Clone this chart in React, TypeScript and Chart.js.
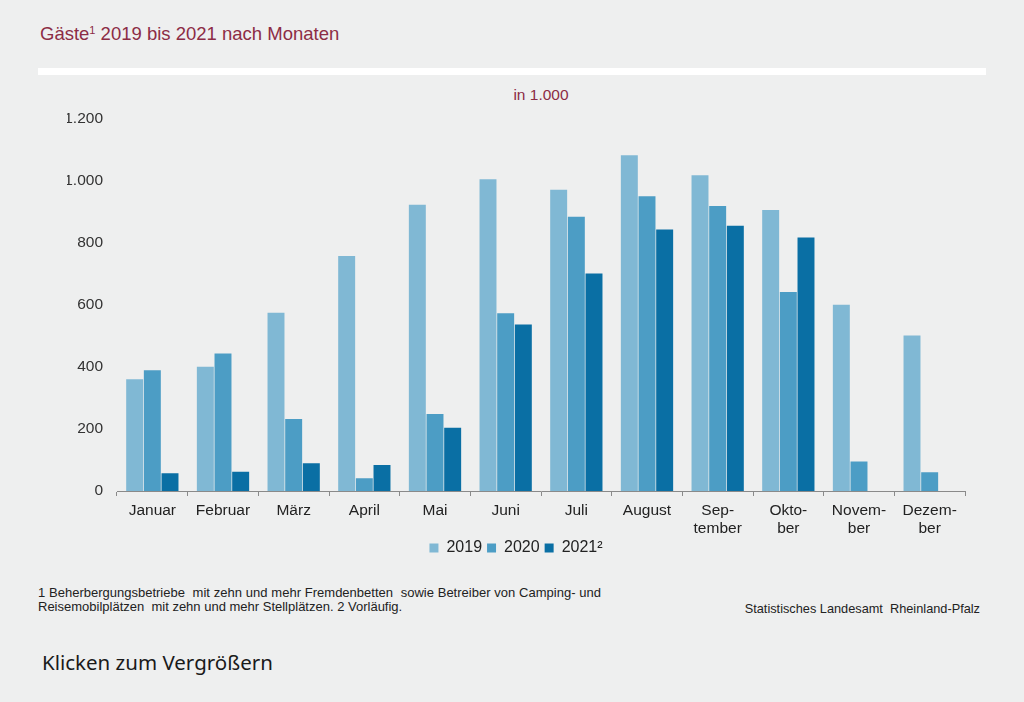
import React, { useEffect, useRef } from "react";
import { Chart, registerables } from "chart.js";

Chart.register(...registerables);

const months: (string | string[])[] = [
  "Januar", "Februar", "März", "April", "Mai", "Juni", "Juli", "August",
  ["Sep-", "tember"], ["Okto-", "ber"], ["Novem-", "ber"], ["Dezem-", "ber"],
];
const seriesLabels = ["2019", "2020", "2021²"];
const values2019 = [360, 400, 574, 757, 922, 1004, 970, 1081, 1017, 905, 600, 501];
const values2020 = [389, 443, 232, 41, 248, 572, 883, 949, 918, 641, 95, 60];
const values2021: (number | null)[] = [57, 62, 89, 84, 204, 536, 700, 842, 854, 816, null, null];
const colors = ["#80b8d4", "#4c9dc5", "#0a6fa4"];
const yTicks = [0, 200, 400, 600, 800, 1000, 1200];

const FONT = "'Liberation Sans', Arial, sans-serif";

export default function App() {
  const ref = useRef<HTMLCanvasElement | null>(null);
  useEffect(() => {
    if (!ref.current) return;
    const chart = new Chart(ref.current, {
      type: "bar",
      data: {
        labels: months,
        datasets: [values2019, values2020, values2021].map((d, i) => ({
          label: seriesLabels[i],
          data: d,
          backgroundColor: colors[i],
          borderWidth: 0,
          categoryPercentage: 0.75,
          barPercentage: 0.96,
        })),
      },
      options: {
        animation: false,
        responsive: false,
        maintainAspectRatio: false,
        layout: { padding: { left: 67, right: 59, top: 0, bottom: 0 } },
        plugins: {
          tooltip: { enabled: false },
          title: { display: false },
          legend: {
            position: "bottom",
            labels: {
              boxWidth: 9,
              boxHeight: 9,
              padding: 5,
              color: "#222",
              font: { family: FONT, size: 16, lineHeight: "9px" },
            },
          },
        },
        scales: {
          x: {
            offset: true,
            afterFit: (s: any) => { s.height = 44; },
            grid: {
              display: true,
              offset: true,
              drawOnChartArea: false,
              drawTicks: true,
              tickLength: 5,
              color: "#8a8a8a",
            },
            border: { display: true, color: "#8a8a8a", width: 1 },
            ticks: {
              color: "#222",
              padding: 6,
              maxRotation: 0,
              autoSkip: false,
              font: { family: FONT, size: 15.5, lineHeight: "18px" },
            },
          },
          y: {
            min: 0,
            max: 1200,
            afterFit: (s: any) => { s.width = 50; },
            afterBuildTicks: (s: any) => { s.ticks = yTicks.map((v) => ({ value: v })); },
            grid: { display: false, drawTicks: false },
            border: { display: false },
            ticks: {
              color: "#333",
              padding: 14,
              font: { family: FONT, size: 15.5 },
              callback: (v: any) => Number(v).toLocaleString("de-DE"),
            },
          },
        },
      },
    });
    return () => chart.destroy();
  }, []);

  return (
    <div
      style={{
        position: "absolute",
        left: 0,
        top: 0,
        width: 1024,
        height: 702,
        background: "#eeefef",
        fontFamily: FONT,
        overflow: "hidden",
      }}
    >
      <div style={{ position: "absolute", left: 40, top: 23, fontSize: 18.5, color: "#8c2c45", whiteSpace: "nowrap" }}>
        Gäste<sup style={{ fontSize: 11, verticalAlign: 6, lineHeight: 0 }}>1</sup> 2019 bis 2021 nach Monaten
      </div>
      <div style={{ position: "absolute", left: 38, top: 68, width: 948, height: 7, background: "#ffffff" }} />
      <div style={{ position: "absolute", left: 441, width: 200, top: 86, textAlign: "center", fontSize: 15.5, color: "#8c2c45" }}>
        in 1.000
      </div>
      <canvas ref={ref} width={1024} height={471} style={{ position: "absolute", left: 0, top: 95, width: 1024, height: 471 }} />
      <div
        style={{
          position: "absolute",
          left: 38,
          top: 586,
          width: 563,
          fontSize: 13,
          lineHeight: "14px",
          color: "#222",
          textAlign: "justify",
          textAlignLast: "left",
        }}
      >
        1 Beherbergungsbetriebe&nbsp; mit zehn und mehr Fremdenbetten&nbsp; sowie Betreiber von Camping- und Reisemobilplätzen&nbsp; mit zehn und mehr Stellplätzen. 2 Vorläufig.
      </div>
      <div style={{ position: "absolute", right: 44, top: 601, fontSize: 12.75, color: "#222", whiteSpace: "nowrap" }}>
        Statistisches Landesamt&nbsp; Rheinland-Pfalz
      </div>
      <div style={{ position: "absolute", left: 42, top: 648, fontSize: 20.5, color: "#1a1a1a", fontFamily: "'Noto Sans', 'Open Sans', sans-serif", whiteSpace: "nowrap" }}>
        Klicken zum Vergrößern
      </div>
    </div>
  );
}
